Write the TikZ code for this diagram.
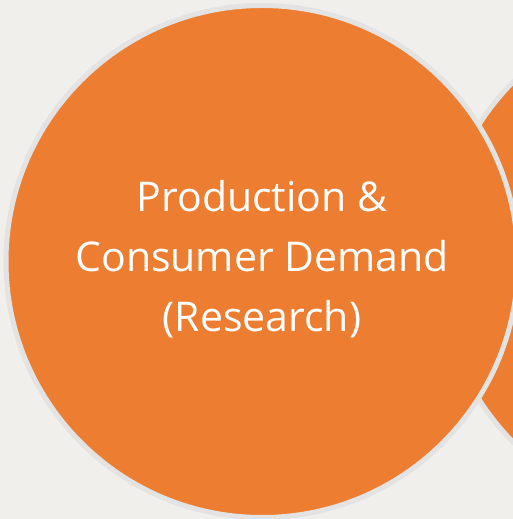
\documentclass[tikz,border=0pt]{standalone}
\usepackage{fontspec}
\setmainfont{Open Sans}
\usepackage{tikz}
\usetikzlibrary{positioning}
\definecolor{bgpaper}{HTML}{F0EFEB}
\definecolor{orangefill}{HTML}{ED7D31}
\definecolor{ringgray}{HTML}{E3E3E3}
\tikzset{bubble/.style={circle, draw=ringgray, line width=5pt, fill=orangefill,
    minimum size=512pt, inner sep=0pt, text=white, align=center,
    font=\fontsize{41}{60}\selectfont}}

\begin{document}
\begin{tikzpicture}[x=1pt,y=1pt]
  \useasboundingbox[fill=bgpaper] (0,0) rectangle (513,519);
  \node [bubble] (next) at (695,257) {};
  \node [bubble] (research) at (262,257.5) {};
  \node [text=white, align=center, font=\fontsize{41}{60}\selectfont]
    (label) at (262,260) {Production \&\\Consumer Demand\\(Research)};
\end{tikzpicture}
\end{document}
